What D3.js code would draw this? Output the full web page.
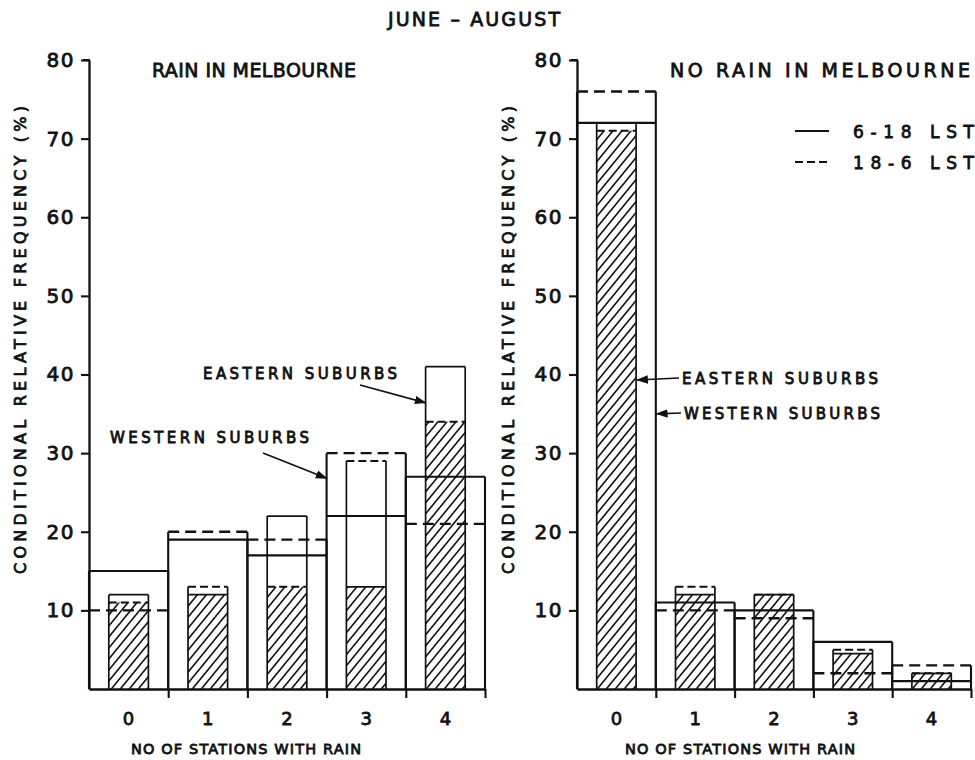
<!DOCTYPE html>
<html>
<head>
<meta charset="utf-8">
<script src="https://cdn.jsdelivr.net/npm/d3@7"></script>
<style>
  html, body { margin: 0; padding: 0; background: #fff; }
  svg text { font-family: "DejaVu Sans", sans-serif; fill: #111; stroke: #111; stroke-width: 0.8px; }
</style>
</head>
<body>
<svg id="chart" width="975" height="760"></svg>
<script>
// Number of stations with rain (x categories)
const stations = ["0", "1", "2", "3", "4"];
const yTicks = [10, 20, 30, 40, 50, 60, 70, 80];

// Rain in Melbourne — conditional relative frequency (%)
const rainWestDay   = [15, 19, 17, 22, 27];   // western suburbs, 6-18 LST
const rainWestNight = [10, 20, 19, 30, 21];   // western suburbs, 18-6 LST
const rainEastDay   = [12, 12, 22, 13, 41];   // eastern suburbs, 6-18 LST
const rainEastNight = [11, 13, 13, 29, 34];   // eastern suburbs, 18-6 LST

// No rain in Melbourne — conditional relative frequency (%)
const dryWestDay   = [72, 11, 10, 6, 1];
const dryWestNight = [76, 10, 9, 2, 3];
const dryEastDay   = [72, 12, 12, 4.5, 2];
const dryEastNight = [71, 13, 12, 5, 2];

const svg = d3.select("#chart");
const ink = "#111";

// diagonal hatching for the eastern-suburbs bars
const defs = svg.append("defs");
defs.append("pattern")
  .attr("id", "hatch")
  .attr("patternUnits", "userSpaceOnUse")
  .attr("width", 9).attr("height", 11)
  .append("path")
  .attr("d", "M-1,1 l2,-2 M0,11 L9,0 M8,12 l2,-2")
  .attr("stroke", ink).attr("stroke-width", 1.6);

const y = d3.scaleLinear().domain([0, 80]).range([689, 60]);

// lettering: fixed size, spacing stretched to a given run length
function label(sel, size, length) {
  sel.attr("font-size", size);
  if (length) sel.attr("textLength", length).attr("lengthAdjust", "spacing");
  return sel;
}

function panel(opts) {
  const g = svg.append("g");
  const x = d3.scaleBand().domain(stations).range([opts.x0, opts.x1]).padding(0);
  const edge = d3.scaleLinear().domain([0, stations.length]).range([opts.x0, opts.x1]);
  const bw = x.bandwidth();
  const innerW = bw * 0.5;
  const innerOff = (bw - innerW) / 2;

  const rows = stations.map((s, i) => ({
    s, wd: opts.westDay[i], wn: opts.westNight[i],
    ed: opts.eastDay[i], en: opts.eastNight[i]
  }));

  // eastern suburbs: hatched to the lower of the two periods
  g.selectAll("rect.hatch").data(rows).join("rect")
    .attr("class", "hatch")
    .attr("x", d => x(d.s) + innerOff)
    .attr("width", innerW)
    .attr("y", d => y(Math.min(d.ed, d.en)))
    .attr("height", d => y(0) - y(Math.min(d.ed, d.en)))
    .attr("fill", "url(#hatch)");

  // eastern suburbs: side walls
  g.selectAll("path.eside").data(rows).join("path")
    .attr("class", "eside")
    .attr("d", d => {
      const top = y(Math.max(d.ed, d.en));
      const l = x(d.s) + innerOff, r = l + innerW;
      return `M${l},${y(0)}V${top}M${r},${y(0)}V${top}`;
    })
    .attr("fill", "none").attr("stroke", ink).attr("stroke-width", 1.7);

  // eastern suburbs: tops (solid = day, dashed = night)
  g.selectAll("line.eday").data(rows).join("line")
    .attr("class", "eday")
    .attr("x1", d => x(d.s) + innerOff).attr("x2", d => x(d.s) + innerOff + innerW)
    .attr("y1", d => y(d.ed)).attr("y2", d => y(d.ed))
    .attr("stroke", ink).attr("stroke-width", 1.7);
  g.selectAll("line.enight").data(rows).join("line")
    .attr("class", "enight")
    .attr("x1", d => x(d.s) + innerOff).attr("x2", d => x(d.s) + innerOff + innerW)
    .attr("y1", d => y(d.en)).attr("y2", d => y(d.en))
    .attr("stroke", ink).attr("stroke-width", 1.9).attr("stroke-dasharray", "8,4");

  // western suburbs: side walls of the wide bars
  g.selectAll("path.wside").data(rows).join("path")
    .attr("class", "wside")
    .attr("d", d => {
      const top = y(Math.max(d.wd, d.wn));
      const l = x(d.s), r = l + bw;
      return `M${l},${y(0)}V${top}M${r},${y(0)}V${top}`;
    })
    .attr("fill", "none").attr("stroke", ink).attr("stroke-width", 2.1);

  // western suburbs: tops
  g.selectAll("line.wday").data(rows).join("line")
    .attr("class", "wday")
    .attr("x1", d => x(d.s)).attr("x2", d => x(d.s) + bw)
    .attr("y1", d => y(d.wd)).attr("y2", d => y(d.wd))
    .attr("stroke", ink).attr("stroke-width", 2.1);
  g.selectAll("line.wnight").data(rows).join("line")
    .attr("class", "wnight")
    .attr("x1", d => x(d.s)).attr("x2", d => x(d.s) + bw)
    .attr("y1", d => y(d.wn)).attr("y2", d => y(d.wn))
    .attr("stroke", ink).attr("stroke-width", 2.4).attr("stroke-dasharray", "11,6");

  // y axis
  const ya = g.append("g").attr("transform", `translate(${opts.x0},0)`)
    .call(d3.axisLeft(y).tickValues(yTicks).tickSize(8).tickSizeOuter(0).tickPadding(6));
  ya.select(".domain").attr("stroke", ink).attr("stroke-width", 2.3);
  ya.selectAll(".tick line").attr("stroke", ink).attr("stroke-width", 2.1);
  ya.selectAll(".tick text").attr("font-size", 20)
    .attr("letter-spacing", 1.5).style("font-family", "DejaVu Sans").style("fill", ink);
  // small flag at the top of the axis
  g.append("line").attr("x1", opts.x0 - 6).attr("x2", opts.x0 + 1)
    .attr("y1", y(80)).attr("y2", y(80)).attr("stroke", ink).attr("stroke-width", 2);

  // x axis: baseline with ticks at category boundaries
  const xa = g.append("g").attr("transform", `translate(0,${y(0)})`)
    .call(d3.axisBottom(edge).tickValues(d3.range(1, stations.length + 1)).tickSize(9)
      .tickSizeOuter(0).tickFormat(""));
  xa.select(".domain").attr("stroke", ink).attr("stroke-width", 2.3);
  xa.selectAll(".tick line").attr("stroke", ink).attr("stroke-width", 2.1);

  g.selectAll("text.cat").data(stations).join("text")
    .attr("class", "cat")
    .attr("x", d => x(d) + bw / 2).attr("y", 725)
    .attr("text-anchor", "middle").attr("font-size", 18)
    .text(d => d);

  label(g.append("text")
    .attr("x", opts.xTitleX).attr("y", 754)
    .attr("text-anchor", "middle"), 14.5, 230)
    .text("NO OF STATIONS WITH RAIN");

  label(g.append("text")
    .attr("transform", `translate(${opts.x0 - 63},340) rotate(-90)`)
    .attr("text-anchor", "middle"), 16, 468)
    .text("CONDITIONAL RELATIVE FREQUENCY (%)");

  label(g.append("text")
    .attr("x", opts.titleX).attr("y", 77)
    .attr("text-anchor", "middle"), 19, opts.titleLen)
    .text(opts.title);

  return { g, x, bw, innerOff, innerW };
}

const left = panel({
  x0: 89, x1: 485, title: "RAIN IN MELBOURNE", titleX: 254, titleLen: 204, xTitleX: 246,
  westDay: rainWestDay, westNight: rainWestNight,
  eastDay: rainEastDay, eastNight: rainEastNight
});
const right = panel({
  x0: 577, x1: 971, title: "NO RAIN IN MELBOURNE", titleX: 820, titleLen: 300, xTitleX: 740,
  westDay: dryWestDay, westNight: dryWestNight,
  eastDay: dryEastDay, eastNight: dryEastNight
});

// overall title
label(svg.append("text").attr("x", 474).attr("y", 26)
  .attr("text-anchor", "middle"), 19, 172)
  .text("JUNE – AUGUST");

// legend
const legend = svg.append("g");
const legendRows = [{ label: "6-18 LST", dash: null, yy: 131 }, { label: "18-6 LST", dash: "8,4", yy: 162 }];
legendRows.forEach(r => {
  legend.append("line").attr("x1", 795).attr("x2", 829).attr("y1", r.yy).attr("y2", r.yy)
    .attr("stroke", ink).attr("stroke-width", 2.2).attr("stroke-dasharray", r.dash);
  label(legend.append("text").attr("x", 853).attr("y", r.yy + 7), 17, 121).text(r.label);
});

// annotations with arrows
defs.append("marker").attr("id", "arrow")
  .attr("viewBox", "0 0 10 10").attr("refX", 9).attr("refY", 5)
  .attr("markerWidth", 12).attr("markerHeight", 12).attr("orient", "auto")
  .attr("markerUnits", "userSpaceOnUse")
  .append("path").attr("d", "M0,1.5 L10,5 L0,8.5 Z").attr("fill", ink);

function note(text, tx, ty, len, fromX, fromY, toX, toY) {
  label(svg.append("text").attr("x", tx).attr("y", ty), 15, len).text(text);
  svg.append("line").attr("x1", fromX).attr("y1", fromY).attr("x2", toX).attr("y2", toY)
    .attr("stroke", ink).attr("stroke-width", 1.7).attr("marker-end", "url(#arrow)");
}

// left panel: point at the bars for 3 and 4 stations
const lx = left.x, rx = right.x;
note("EASTERN SUBURBS", 203, 379, 194, 360, 385, lx("4") + left.innerOff, y(36.4));
note("WESTERN SUBURBS", 110, 443, 199, 263, 453, lx("3"), y(26.8));
// right panel: point at the bars for 0 stations
note("EASTERN SUBURBS", 682, 384, 196, 679, 378, rx("0") + right.innerOff + right.innerW + 1, y(39.3));
note("WESTERN SUBURBS", 684, 419, 196, 681, 413, rx("0") + right.bw + 1, y(35));
</script>
</body>
</html>
